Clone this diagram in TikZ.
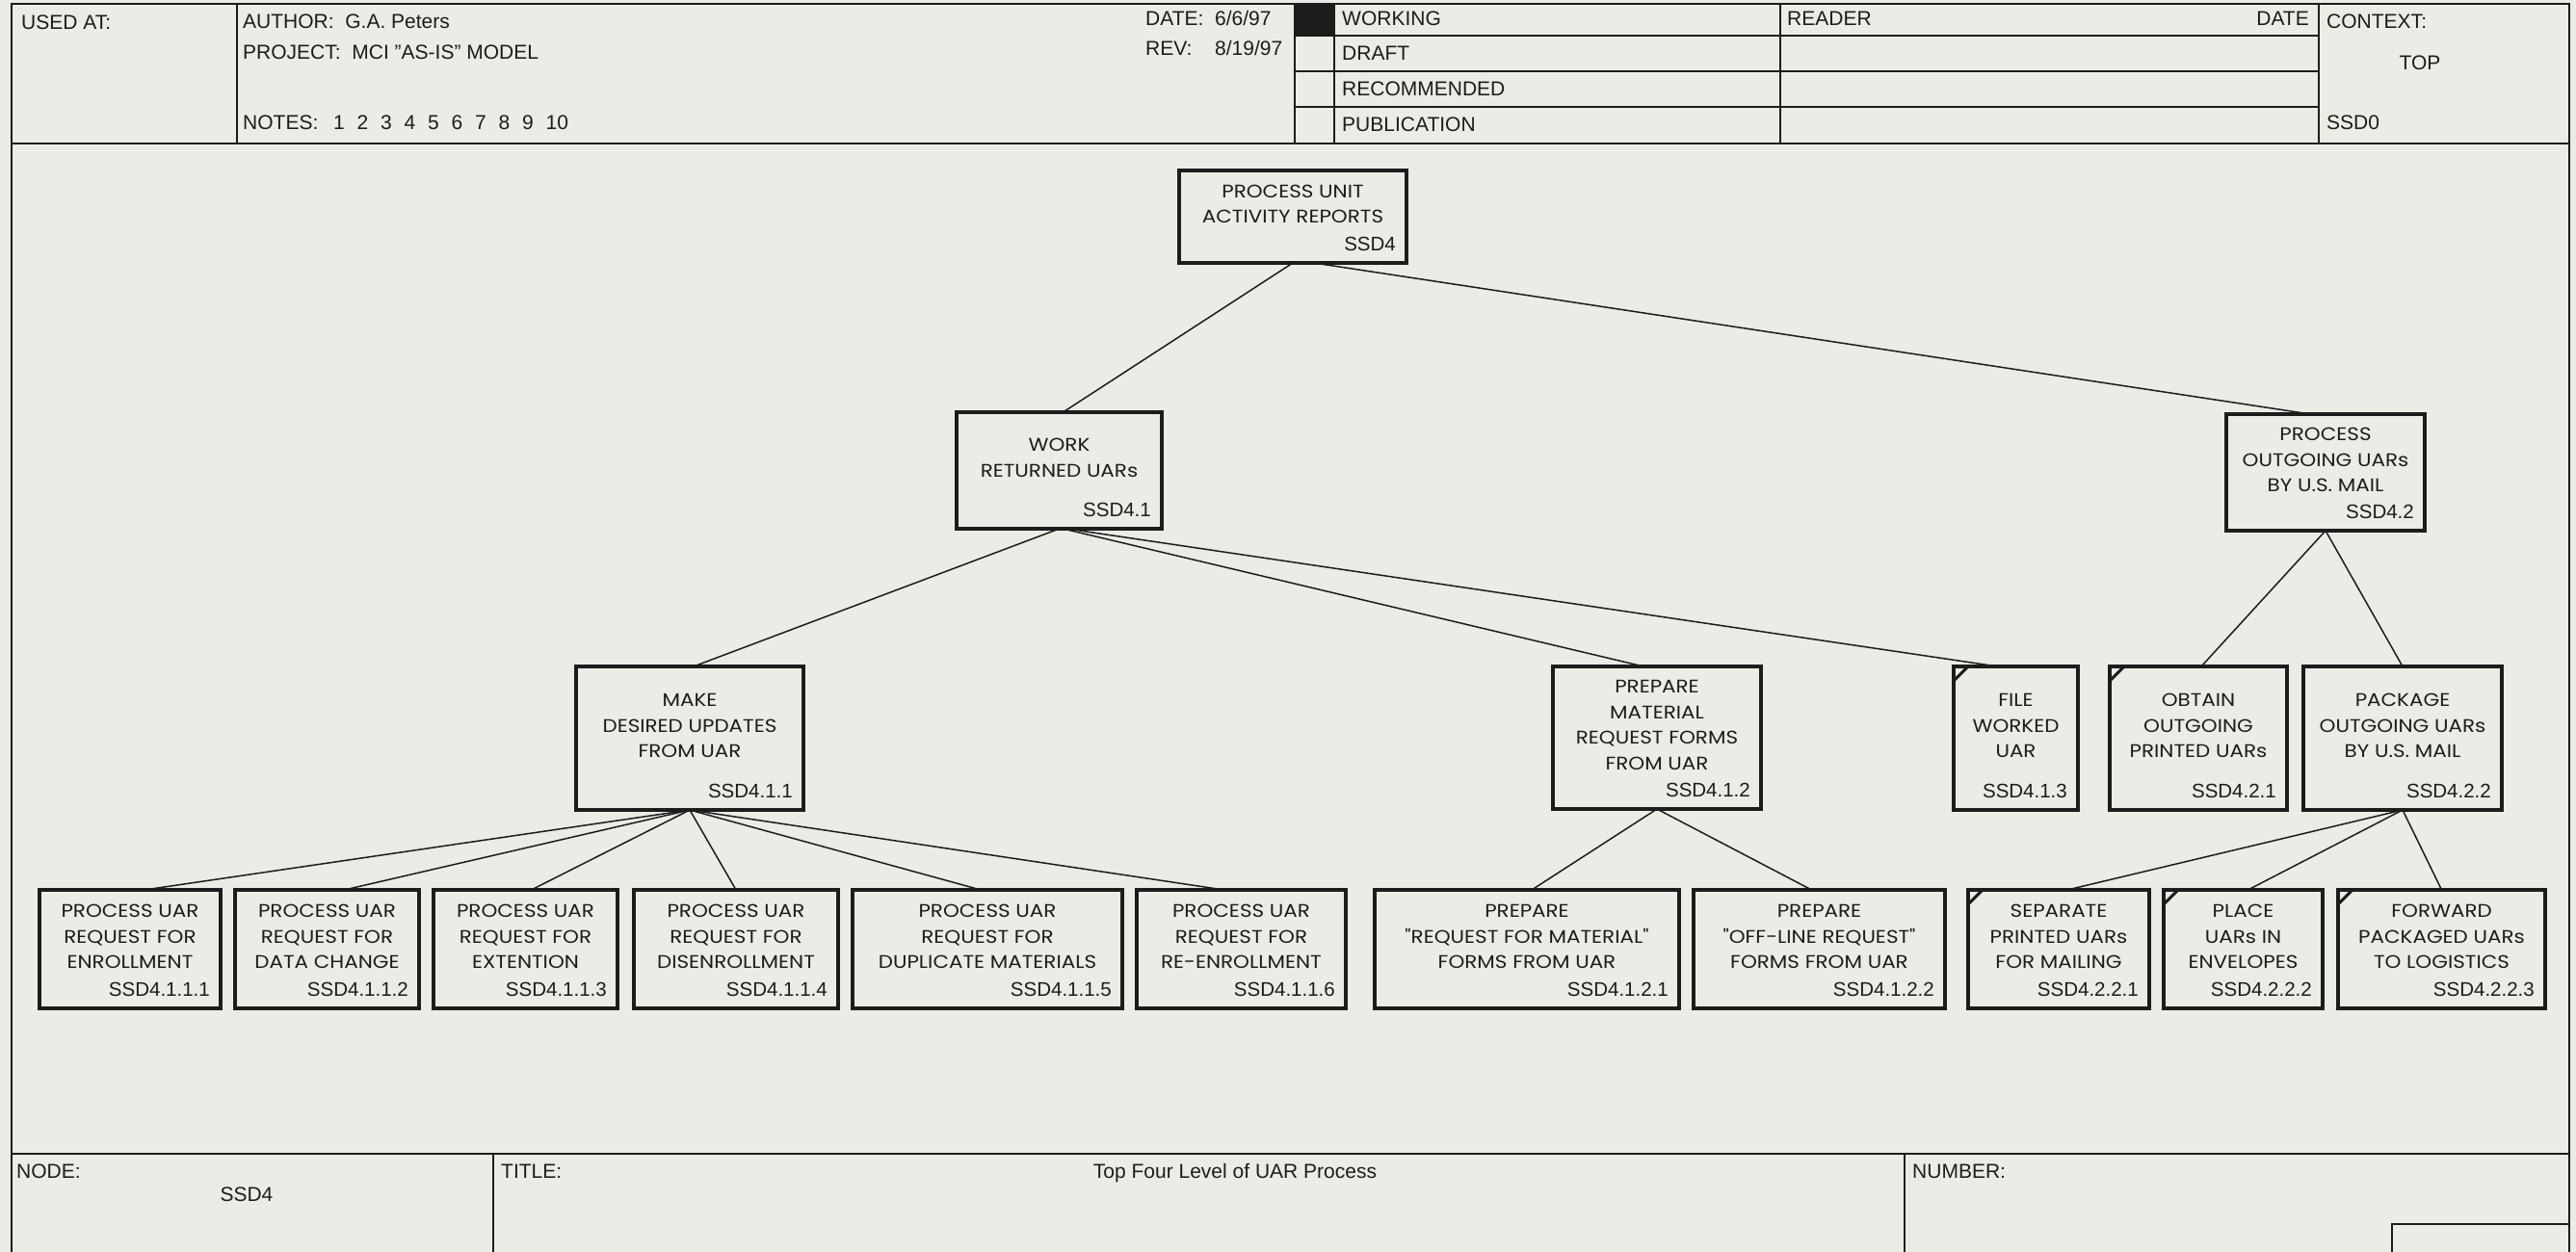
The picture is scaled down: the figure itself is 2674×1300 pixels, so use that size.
\documentclass[tikz,border=0pt]{standalone}
\usepackage{fontspec}
\setmainfont{Liberation Sans}
\newfontfamily\titlefont{Poppins}[FakeStretch=1.13]
\usetikzlibrary{calc}

\definecolor{paper}{RGB}{236,236,230}
\definecolor{ink}{RGB}{28,28,28}

\tikzset{
  frameline/.style={draw=ink, line width=2.4pt},
  procbox/.style={draw=ink, line width=3.3pt, rectangle, inner sep=0pt, outer sep=0pt},
  boxtitle/.style={font=\titlefont\fontsize{19}{26.5}\selectfont, text=ink, align=center, inner sep=0pt},
  boxid/.style={font=\fontsize{20.5}{21}\selectfont, text=ink, inner sep=0pt, anchor=base east},
  link/.style={draw=ink, line width=1.5pt},
  hdr/.style={font=\fontsize{21}{23}\selectfont, text=ink, inner sep=0pt, anchor=base west},
  hdrR/.style={hdr, anchor=base east},
  hdrC/.style={hdr, anchor=base},
  tick/.style={draw=ink, line width=3pt},
}

% name, x1, y1, x2, y2, title lines, identifier
\newcommand\actbox[7]{%
  \node[procbox, minimum width={#4-#2}, minimum height={#5-#3}] (#1) at ({(#2+#4)/2},{(#3+#5)/2}) {};
  \node[boxtitle] (#1-t) at ([yshift=13pt]#1.center) {#6};
  \node[boxid] (#1-id) at ([xshift=-11pt,yshift=13pt]#1.south east) {#7};
}
% mark for an activity that is not decomposed further
\newcommand\leafmark[1]{%
  \draw[tick] ([yshift=-15pt]#1.north west) -- ([xshift=15pt]#1.north west);
}

\begin{document}
\begin{tikzpicture}[x=1pt, y=-1pt]
  \useasboundingbox (0,0) rectangle (2674,1300);
  \fill[paper] (0,0) rectangle (2674,1300);

  % ---------- outer frame ----------
  \coordinate (fTL) at (12,4);
  \coordinate (fTR) at (2667,4);
  \coordinate (fBL) at (12,1300);
  \coordinate (fBR) at (2667,1300);
  \draw[frameline] (fBL) -- (fTL) -- (fTR) -- (fBR);

  % ---------- header ----------
  \coordinate (hL) at (12,149);
  \coordinate (hR) at (2667,149);
  \draw[frameline] (hL) -- (hR);
  \draw[frameline] (246,4) -- (246,149);
  \draw[frameline] (1344,4) -- (1344,149);
  \draw[frameline] (1385,4) -- (1385,149);
  \draw[frameline] (1848,4) -- (1848,149);
  \draw[frameline] (2407,4) -- (2407,149);
  \fill[ink] (1344,4) rectangle (1385,37);
  \foreach \yy in {37,74,111}
    \draw[frameline] (1344,\yy) -- (2407,\yy);

  \node[hdr] (usedat) at (22,31) {USED AT:};
  \node[hdr] (author) at (252,30) {AUTHOR:\ \ G.A. Peters};
  \node[hdr] (project) at (252,62) {PROJECT:\ \ MCI "AS-IS" MODEL};
  \node[hdr] (notes) at (252,135) {NOTES:};
  \foreach \i in {1,...,10}
    \node[hdr] (note\i) at ({346+24.5*(\i-1)},135) {\i};
  \node[hdr] (datel) at (1189,27) {DATE:};
  \node[hdr] (datev) at (1261,27) {6/6/97};
  \node[hdr] (revl) at (1189,58) {REV:};
  \node[hdr] (revv) at (1261,58) {8/19/97};
  \node[hdr] (working) at (1393,27) {WORKING};
  \node[hdr] (draft) at (1393,63) {DRAFT};
  \node[hdr] (recommended) at (1393,100) {RECOMMENDED};
  \node[hdr] (publication) at (1393,137) {PUBLICATION};
  \node[hdr] (reader) at (1855,27) {READER};
  \node[hdrR] (rdate) at (2397,27) {DATE};
  \node[hdr] (context) at (2415,30) {CONTEXT:};
  \node[hdrC] (ctxtop) at (2512,73) {TOP};
  \node[hdr] (ctxid) at (2415,135) {SSD0};

  % ---------- footer ----------
  \draw[frameline] (12,1198) -- (2667,1198);
  \draw[frameline] (512,1198) -- (512,1300);
  \draw[frameline] (1977,1198) -- (1977,1300);
  \draw[frameline] (2483,1300) -- (2483,1271) -- (2667,1271);
  \node[hdr] (nodelbl) at (17,1223) {NODE:};
  \node[hdrC] (nodeval) at (256,1247) {SSD4};
  \node[hdr] (titlelbl) at (520,1223) {TITLE:};
  \node[hdrC] (titleval) at (1282,1223) {Top Four Level of UAR Process};
  \node[hdr] (numberlbl) at (1985,1223) {NUMBER:};

  % ---------- node tree ----------
  \actbox{n4}{1224}{177}{1460}{273}{PROCESS UNIT\\ACTIVITY REPORTS}{SSD4}

  \actbox{n41}{993}{428}{1206}{549}{WORK\\RETURNED UARs}{SSD4.1}
  \actbox{n42}{2311}{430}{2517}{551}{PROCESS\\OUTGOING UARs\\BY U.S. MAIL}{SSD4.2}

  \actbox{n411}{598}{692}{834}{841}{MAKE\\DESIRED UPDATES\\FROM UAR}{SSD4.1.1}
  \actbox{n412}{1612}{692}{1828}{840}{PREPARE\\MATERIAL\\REQUEST FORMS\\FROM UAR}{SSD4.1.2}
  \actbox{n413}{2028}{692}{2157}{841}{FILE\\WORKED\\UAR}{SSD4.1.3}
  \actbox{n421}{2190}{692}{2374}{841}{OBTAIN\\OUTGOING\\PRINTED UARs}{SSD4.2.1}
  \actbox{n422}{2391}{692}{2597}{841}{PACKAGE\\OUTGOING UARs\\BY U.S. MAIL}{SSD4.2.2}

  \actbox{n4111}{41}{924}{229}{1047}{PROCESS UAR\\REQUEST FOR\\ENROLLMENT}{SSD4.1.1.1}
  \actbox{n4112}{244}{924}{435}{1047}{PROCESS UAR\\REQUEST FOR\\DATA CHANGE}{SSD4.1.1.2}
  \actbox{n4113}{450}{924}{641}{1047}{PROCESS UAR\\REQUEST FOR\\EXTENTION}{SSD4.1.1.3}
  \actbox{n4114}{658}{924}{870}{1047}{PROCESS UAR\\REQUEST FOR\\DISENROLLMENT}{SSD4.1.1.4}
  \actbox{n4115}{885}{924}{1165}{1047}{PROCESS UAR\\REQUEST FOR\\DUPLICATE MATERIALS}{SSD4.1.1.5}
  \actbox{n4116}{1180}{924}{1397}{1047}{PROCESS UAR\\REQUEST FOR\\RE-ENROLLMENT}{SSD4.1.1.6}
  \actbox{n4121}{1427}{924}{1743}{1047}{PREPARE\\"REQUEST FOR MATERIAL"\\FORMS FROM UAR}{SSD4.1.2.1}
  \actbox{n4122}{1758}{924}{2019}{1047}{PREPARE\\"OFF-LINE REQUEST"\\FORMS FROM UAR}{SSD4.1.2.2}
  \actbox{n4221}{2043}{924}{2231}{1047}{SEPARATE\\PRINTED UARs\\FOR MAILING}{SSD4.2.2.1}
  \actbox{n4222}{2246}{924}{2411}{1047}{PLACE\\UARs IN\\ENVELOPES}{SSD4.2.2.2}
  \actbox{n4223}{2427}{924}{2642}{1047}{FORWARD\\PACKAGED UARs\\TO LOGISTICS}{SSD4.2.2.3}

  \leafmark{n413}
  \leafmark{n421}
  \leafmark{n4221}
  \leafmark{n4222}
  \leafmark{n4223}

  % ---------- connectors ----------
  \draw[link] (n4.south) -- ([xshift=4pt]n41.north);
  \draw[link] ([xshift=22pt]n4.south) -- ([xshift=-16pt]n42.north);

  \draw[link] (n41.south) -- ([xshift=4pt]n411.north);
  \draw[link] ([xshift=4pt]n41.south) -- ([xshift=-14pt]n412.north);
  \draw[link] ([xshift=8pt]n41.south) -- ([xshift=-19pt]n413.north);

  \draw[link] (n42.south) -- ([xshift=3pt]n421.north);
  \draw[link] (n42.south) -- (n422.north);

  \draw[link] (n411.south) -- ([xshift=15pt]n4111.north);
  \draw[link] (n411.south) -- ([xshift=18pt]n4112.north);
  \draw[link] (n411.south) -- ([xshift=6pt]n4113.north);
  \draw[link] (n411.south) -- (n4114.north);
  \draw[link] (n411.south) -- ([xshift=-7pt]n4115.north);
  \draw[link] (n411.south) -- ([xshift=-18pt]n4116.north);

  \draw[link] (n412.south) -- ([xshift=5pt]n4121.north);
  \draw[link] (n412.south) -- ([xshift=-8pt]n4122.north);

  \draw[link] (n422.south) -- ([xshift=9pt]n4221.north);
  \draw[link] (n422.south) -- ([xshift=5pt]n4222.north);
  \draw[link] (n422.south) -- (n4223.north);
\end{tikzpicture}
\end{document}
